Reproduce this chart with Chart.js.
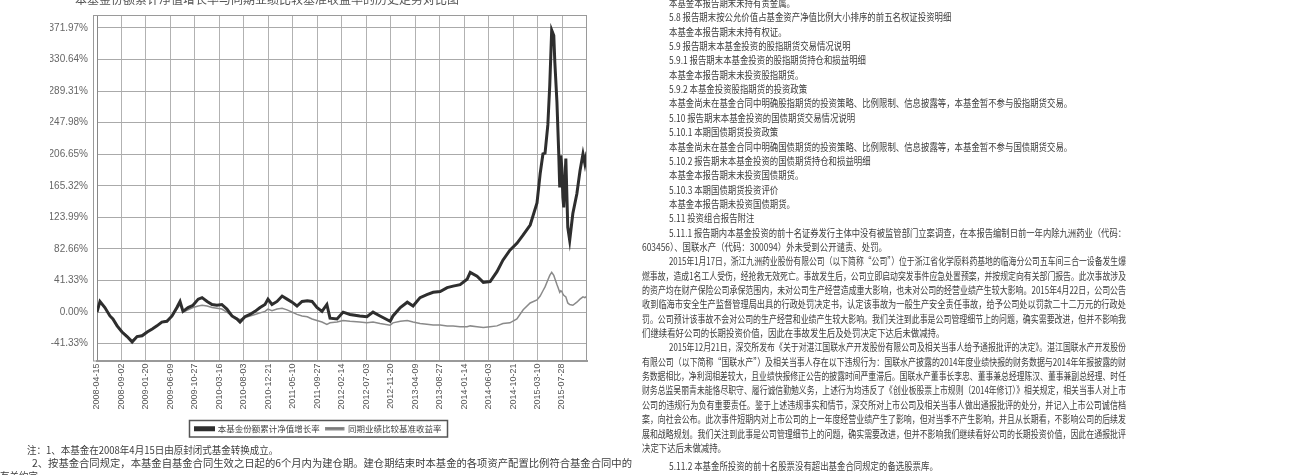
<!DOCTYPE html>
<html lang="zh-CN">
<head>
<meta charset="utf-8">
<script src="https://cdn.jsdelivr.net/npm/chart.js@4.4.1/dist/chart.umd.min.js"></script>
<style>
  html, body { margin: 0; padding: 0; background: #fff; }
  body { width: 1296px; height: 475px; position: relative; overflow: hidden;
         font-family: "Noto Sans CJK SC", sans-serif; color: #3c3c3c; }
  #chartBox { position: absolute; left: 0; top: 0; width: 640px; height: 445px; filter: blur(0.3px); }
  .ln { position: absolute; font-size: 10px; line-height: 14px; white-space: nowrap;
        transform-origin: 0 0; filter: blur(0.2px); }
  #title { position: absolute; left: 75px; top: -10px; font-size: 12px; color: #555;
           white-space: nowrap; filter: blur(0.3px); }
</style>
</head>
<body>
<div id="title">本基金份额累计净值增长率与同期业绩比较基准收益率的历史走势对比图</div>
<div id="chartBox"><canvas id="navChart" width="640" height="445"></canvas></div>
<div id="doc"></div>

<script>
// values (percent)
const dates = [
  '2008-04-15','2008-05-02','2008-05-30','2008-06-28','2008-07-15','2008-08-08','2008-09-05','2008-10-04','2008-11-02','2008-11-30','2008-12-29',
  '2009-01-27','2009-02-25','2009-03-24','2009-04-21','2009-05-20','2009-06-18','2009-07-16','2009-08-03','2009-08-20','2009-09-18','2009-10-16','2009-11-15','2009-12-07',
  '2010-01-05','2010-02-02','2010-03-02','2010-03-30','2010-04-28','2010-05-27','2010-06-24','2010-07-12','2010-08-09','2010-09-07','2010-10-06','2010-11-04','2010-12-02','2010-12-19',
  '2011-01-11','2011-02-09','2011-03-10','2011-04-07','2011-05-06','2011-06-03','2011-07-02','2011-08-01','2011-08-28','2011-09-25','2011-10-24','2011-11-21','2011-12-09',
  '2012-01-18','2012-02-22','2012-04-01','2012-05-27','2012-07-07','2012-08-11','2012-09-20','2012-11-17','2012-12-03',
  '2013-01-14','2013-02-23','2013-03-28','2013-05-07','2013-06-15','2013-07-21','2013-08-30','2013-10-09','2013-11-12','2013-12-22',
  '2014-01-31','2014-02-18','2014-03-29','2014-05-04','2014-06-12','2014-07-21','2014-08-24','2014-10-03','2014-11-12','2014-12-18',
  '2015-01-27','2015-03-07','2015-03-25','2015-04-10','2015-04-22','2015-05-08','2015-05-19','2015-05-30','2015-06-11','2015-06-17','2015-06-29',
  '2015-07-09','2015-07-15','2015-07-21','2015-07-27','2015-08-02','2015-08-07','2015-08-19','2015-08-30','2015-09-10','2015-09-28','2015-10-21',
  '2015-11-08','2015-11-25','2015-12-06','2015-12-18'
];
const fundGrowth = [
  0, 14, 6, -5, -9, -18, -26, -32, -39, -32, -31,
  -26, -22, -18, -13, -12, -5, 6, 14, 1, 6, 9, 17, 19,
  14, 10, 9, 10, 4, -5, -9, -13, -6, -3, 1, 6, 10, 17,
  10, 14, 21, 17, 13, 8, 14, 15, 14, 6, 1, 10, -8,
  -9, 0, -3, -5, -6, 0, -5, -12, -5,
  6, 13, 8, 19, 23, 26, 27, 32, 34, 36,
  43, 52, 47, 39, 40, 53, 68, 81, 90, 101,
  114, 143, 181, 207, 208, 245, 297, 369, 362, 327, 275,
  210, 163, 205, 189, 150, 137, 201, 111, 94, 129, 155,
  185, 207, 194, 210
];
const benchmarkGrowth = [
  0, 12, 6, -5, -9, -17, -25, -31, -37, -32, -30,
  -26, -22, -18, -13, -11, -6, 4, 10, 0, 3, 6, 8, 9,
  8, 6, 5, 4, 0, -5, -8, -10, -7, -5, -3, -1, 1, 4,
  2, 4, 5, 3, 0, -3, -5, -6, -9, -11, -13, -16, -14,
  -13, -11, -12, -13, -14, -13, -15, -17, -14,
  -12, -11, -13, -15, -16, -17, -17, -18, -18, -19,
  -19, -18, -19, -20, -19, -18, -15, -14, -9, 3,
  12, 16, 21, 28, 33, 42, 48, 52, 48, 44, 36,
  30, 26, 28, 27, 24, 22, 20, 12, 10, 9, 13,
  17, 20, 19, 21
];
const seriesNames = ['本基金份额累计净值增长率', '同期业绩比较基准收益率'];
const yTickValues = [-41.33, 0, 41.33, 82.66, 123.99, 165.32, 206.65, 247.98, 289.31, 330.64, 371.97];
const xTickDates = [
  '2008-04-15','2008-09-02','2009-01-20','2009-06-09','2009-10-27','2010-03-16','2010-08-03','2010-12-21','2011-05-10','2011-09-27',
  '2012-02-14','2012-07-03','2012-11-20','2013-04-09','2013-08-27','2014-01-14','2014-06-03','2014-10-21','2015-03-10','2015-07-28'
];

const toTime = s => Date.parse(s + 'T00:00:00Z');
const fmtDate = v => new Date(v).toISOString().slice(0, 10);

const framePlugin = {
  id: 'frame',
  afterDraw(chart) {
    const { ctx, chartArea: a } = chart;
    ctx.save();
    ctx.strokeStyle = '#9a9a9a';
    ctx.lineWidth = 1;
    ctx.strokeRect(a.left - 3.5, a.top + 0.5, a.right - a.left + 3, a.bottom - a.top);
    const boxes = chart.legend.legendHitBoxes;
    if (boxes && boxes.length) {
      const l = Math.min(...boxes.map(b => b.left)) - 6;
      const r = Math.max(...boxes.map(b => b.left + b.width)) + 6;
      const t = Math.min(...boxes.map(b => b.top)) - 4;
      const btm = Math.max(...boxes.map(b => b.top + b.height)) + 4;
      ctx.strokeStyle = '#555';
      ctx.lineWidth = 1.5;
      ctx.strokeRect(l, t, r - l, btm - t);
    }
    ctx.restore();
  }
};

const tickFont = { family: 'Liberation Sans', size: 9 };

new Chart(document.getElementById('navChart').getContext('2d'), {
  type: 'line',
  data: {
    datasets: [{
      label: seriesNames[0],
      data: dates.map((d, i) => ({ x: toTime(d), y: fundGrowth[i] })),
      borderColor: '#2e2e2e',
      backgroundColor: '#2e2e2e',
      borderWidth: 3,
      pointRadius: 0,
      order: 0,
    }, {
      label: seriesNames[1],
      data: dates.map((d, i) => ({ x: toTime(d), y: benchmarkGrowth[i] })),
      borderColor: '#8a8a8a',
      backgroundColor: '#6a6a6a',
      borderWidth: 1.5,
      pointRadius: 0,
      order: 1,
    }]
  },
  options: {
    responsive: false,
    animation: false,
    devicePixelRatio: 1,
    layout: { padding: { left: 50, right: 53, top: 12, bottom: 2 } },
    scales: {
      x: {
        type: 'linear',
        min: toTime(dates[0]),
        max: toTime(dates[dates.length - 1]),
        afterBuildTicks: s => { s.ticks = xTickDates.map(d => ({ value: toTime(d) })); },
        afterFit: s => { s.height = 58; },
        ticks: {
          callback: v => fmtDate(v),
          autoSkip: false,
          minRotation: 90,
          maxRotation: 90,
          padding: 3,
          color: '#555',
          font: tickFont,
        },
        grid: { color: '#b2b2b2', drawTicks: false },
        border: { color: '#999', width: 2 },
      },
      y: {
        min: -63.3,
        max: 388.8,
        afterBuildTicks: s => { s.ticks = yTickValues.map(v => ({ value: v })); },
        afterFit: s => { s.width = 47; },
        ticks: {
          callback: v => v.toFixed(2) + '%',
          padding: 9,
          color: '#666',
          font: { family: 'Liberation Sans', size: 10 },
        },
        grid: { color: '#aaa', drawTicks: false },
        border: { color: '#888' },
      }
    },
    plugins: {
      legend: {
        position: 'bottom',
        labels: {
          boxWidth: 18,
          boxHeight: 2,
          padding: 6,
          color: '#444',
          font: { family: 'Noto Sans CJK SC', size: 8.5 },
        }
      },
      tooltip: { enabled: false }
    }
  },
  plugins: [framePlugin]
});

// surrounding report text (left notes + right column)
const notes = [
  { x: 27, y: 443, full: 0, text: '注：1、本基金在2008年4月15日由原封闭式基金转换成立。' },
  { x: 32, y: 456, full: 600, text: '2、按基金合同规定，本基金自基金合同生效之日起的6个月内为建仓期。建仓期结束时本基金的各项资产配置比例符合基金合同中的' },
  { x: 0, y: 469, full: 0, text: '有关约定。' },
];
const rightLines = [
  [1, 0, '本基金本报告期末未持有贵金属。'],
  [1, 0, '5.8  报告期末按公允价值占基金资产净值比例大小排序的前五名权证投资明细'],
  [1, 0, '本基金本报告期末未持有权证。'],
  [1, 0, '5.9  报告期末本基金投资的股指期货交易情况说明'],
  [1, 0, '5.9.1  报告期末本基金投资的股指期货持仓和损益明细'],
  [1, 0, '本基金本报告期末未投资股指期货。'],
  [1, 0, '5.9.2  本基金投资股指期货的投资政策'],
  [1, 0, '本基金尚未在基金合同中明确股指期货的投资策略、比例限制、信息披露等，本基金暂不参与股指期货交易。'],
  [1, 0, '5.10  报告期末本基金投资的国债期货交易情况说明'],
  [1, 0, '5.10.1  本期国债期货投资政策'],
  [1, 0, '本基金尚未在基金合同中明确国债期货的投资策略、比例限制、信息披露等，本基金暂不参与国债期货交易。'],
  [1, 0, '5.10.2  报告期末本基金投资的国债期货持仓和损益明细'],
  [1, 0, '本基金本报告期末未投资国债期货。'],
  [1, 0, '5.10.3  本期国债期货投资评价'],
  [1, 0, '本基金本报告期未投资国债期货。'],
  [1, 0, '5.11  投资组合报告附注'],
  [1, 1, '5.11.1  报告期内本基金投资的前十名证券发行主体中没有被监管部门立案调查，在本报告编制日前一年内除九洲药业（代码：'],
  [0, 0, '603456）、国联水产（代码：300094）外未受到公开谴责、处罚。'],
  [1, 1, '2015年1月17日，浙江九洲药业股份有限公司（以下简称“公司”）位于浙江省化学原料药基地的临海分公司五车间三合一设备发生爆'],
  [0, 1, '燃事故，造成1名工人受伤，经抢救无效死亡。事故发生后，公司立即启动突发事件应急处置预案，并按规定向有关部门报告。此次事故涉及'],
  [0, 1, '的资产均在财产保险公司承保范围内，未对公司生产经营造成重大影响，也未对公司的经营业绩产生较大影响。2015年4月22日，公司公告'],
  [0, 1, '收到临海市安全生产监督管理局出具的行政处罚决定书，认定该事故为一般生产安全责任事故，给予公司处以罚款二十二万元的行政处'],
  [0, 1, '罚。公司预计该事故不会对公司的生产经营和业绩产生较大影响。我们关注到此事是公司管理细节上的问题，确实需要改进，但并不影响我'],
  [0, 0, '们继续看好公司的长期投资价值，因此在事故发生后及处罚决定下达后未做减持。'],
  [1, 1, '2015年12月21日，深交所发布《关于对湛江国联水产开发股份有限公司及相关当事人给予通报批评的决定》。湛江国联水产开发股份'],
  [0, 1, '有限公司（以下简称“国联水产”）及相关当事人存在以下违规行为：国联水产披露的2014年度业绩快报的财务数据与2014年年报披露的财'],
  [0, 1, '务数据相比，净利润相差较大，且业绩快报修正公告的披露时间严重滞后。国联水产董事长李忠、董事兼总经理陈汉、董事兼副总经理、时任'],
  [0, 1, '财务总监吴丽青未能恪尽职守、履行诚信勤勉义务，上述行为均违反了《创业板股票上市规则（2014年修订）》相关规定，相关当事人对上市'],
  [0, 1, '公司的违规行为负有重要责任。鉴于上述违规事实和情节，深交所对上市公司及相关当事人做出通报批评的处分，并记入上市公司诚信档'],
  [0, 1, '案，向社会公布。此次事件短期内对上市公司的上一年度经营业绩产生了影响，但对当季不产生影响，并且从长期看，不影响公司的后续发'],
  [0, 1, '展和战略规划。我们关注到此事是公司管理细节上的问题，确实需要改进，但并不影响我们继续看好公司的长期投资价值，因此在通报批评'],
  [0, 0, '决定下达后未做减持。'],
  [1, 0, '5.11.2  本基金所投资的前十名股票没有超出基金合同规定的备选股票库。'],
];

const doc = document.getElementById('doc');
function addLine(x, y, text, fullWidth, baseScale) {
  const el = document.createElement('div');
  el.className = 'ln';
  el.textContent = text;
  el.style.left = x + 'px';
  el.style.top = y + 'px';
  doc.appendChild(el);
  const w = el.getBoundingClientRect().width;
  const sx = fullWidth ? fullWidth / w : baseScale;
  el.style.transform = 'scaleX(' + sx.toFixed(4) + ')';
}
notes.forEach(n => addLine(n.x, n.y, n.text, n.full, 0.95));
rightLines.forEach(([indent, full, text], i) => {
  const x = indent ? 669 : 642;
  const y = -4 + i * 14.35 + (i === rightLines.length - 1 ? 4 : 0);
  addLine(x, y, text, full ? 1126 - x : 0, 0.84);
});
</script>
</body>
</html>
